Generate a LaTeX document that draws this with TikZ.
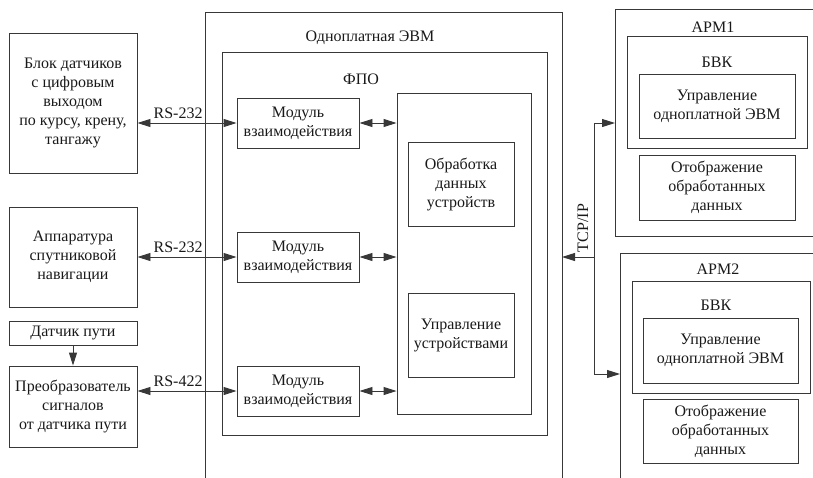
\documentclass[tikz,border=0pt]{standalone}
\usepackage{fontspec}
\setmainfont{Liberation Serif}
\usetikzlibrary{arrows.meta}
\definecolor{linec}{gray}{0.22}
\begin{document}
\begin{tikzpicture}[x=1pt,y=-1pt,
  every node/.style={font=\fontsize{16}{19}\selectfont, align=center, inner sep=0pt, text=black!90},
  box/.style={draw=linec, line width=0.9pt},
  ln/.style={draw=linec, line width=0.9pt},
  arr/.style={ln, -{Triangle[length=13pt,width=8pt]}},
  darr/.style={ln, {Triangle[length=13pt,width=8pt]}-{Triangle[length=13pt,width=8pt]}}]
\useasboundingbox (0,0) rectangle (813,477);
% left devices
\node[box, minimum width=128pt, minimum height=140pt] (b1) at (73,103) {Блок датчиков\\с цифровым\\выходом\\по курсу, крену,\\тангажу};
\node[box, minimum width=128pt, minimum height=100pt] (b2) at (73,257) {Аппаратура\\спутниковой\\навигации};
\node[box, minimum width=128pt, minimum height=24pt] (b3) at (73,333) {Датчик пути};
\node[box, minimum width=128pt, minimum height=81pt] (b4) at (73,406.5) {Преобразователь\\сигналов\\от датчика пути};
% single board computer (open bottom)
\draw[ln] (205,480) -- (205,12) -- (562,12) -- (562,480);
\node (evmlbl) at (370,38) {Одноплатная ЭВМ};
\node[box, minimum width=325pt, minimum height=383pt] (fpo) at (384.5,243.5) {};
\node (fpolbl) at (361,79) {ФПО};
\node[box, minimum width=122pt, minimum height=50pt] (m1) at (298,123) {Модуль\\взаимодействия};
\node[box, minimum width=122pt, minimum height=50pt] (m2) at (298,257) {Модуль\\взаимодействия};
\node[box, minimum width=122pt, minimum height=50pt] (m3) at (298,391) {Модуль\\взаимодействия};
\node[box, minimum width=134pt, minimum height=321pt] (core) at (464,253.5) {};
\node[box, minimum width=106pt, minimum height=84pt] (obr) at (461,184) {Обработка\\данных\\устройств};
\node[box, minimum width=106pt, minimum height=84pt] (upr) at (461,335) {Управление\\устройствами};
% APM1
\draw[ln] (815,9) -- (615,9) -- (615,236) -- (815,236);
\node (apm1lbl) at (713,27) {АРМ1};
\node[box, minimum width=180pt, minimum height=112pt] (bvk1) at (717,92) {};
\node (bvk1lbl) at (717,62) {БВК};
\node[box, minimum width=156pt, minimum height=64pt] (u1) at (717,106) {Управление\\одноплатной ЭВМ};
\node[box, minimum width=156pt, minimum height=65pt] (o1) at (717,187.5) {Отображение\\обработанных\\данных};
% APM2
\draw[ln] (620,480) -- (620,253) -- (815,253);
\node (apm2lbl) at (718,269) {АРМ2};
\node[box, minimum width=178pt, minimum height=112pt] (bvk2) at (721,337) {};
\node (bvk2lbl) at (716,305) {БВК};
\node[box, minimum width=155pt, minimum height=65pt] (u2) at (720.5,350.5) {Управление\\одноплатной ЭВМ};
\node[box, minimum width=155pt, minimum height=64pt] (o2) at (720.5,431) {Отображение\\обработанных\\данных};
% connectors
\draw[arr] (b3) -- (b4);
\draw[darr] (b1.east |- m1.west) -- (m1.west) node[pos=0.41, above=4pt] {RS-232};
\draw[darr] (b2.east |- m2.west) -- (m2.west) node[pos=0.41, above=4pt] {RS-232};
\draw[darr] (b4.east |- m3.west) -- (m3.west) node[pos=0.41, above=4pt] {RS-422};
\draw[darr] (m1.east) -- (m1.east -| core.west);
\draw[darr] (m2.east) -- (m2.east -| core.west);
\draw[darr] (m3.east) -- (m3.east -| core.west);
% TCP/IP bus
\coordinate (evmR) at (562,257);
\coordinate (busM) at (594,257);
\coordinate (busT) at (594,123);
\coordinate (busB) at (594,374);
\coordinate (apm1W) at (615,123);
\coordinate (apm2W) at (620,374);
\draw[ln] (busT) -- (busB);
\draw[arr] (busM) -- (evmR);
\draw[arr] (busT) -- (apm1W);
\draw[arr] (busB) -- (apm2W);
\node[rotate=90] (tcp) at (583,228) {TCP/IP};
\end{tikzpicture}
\end{document}
